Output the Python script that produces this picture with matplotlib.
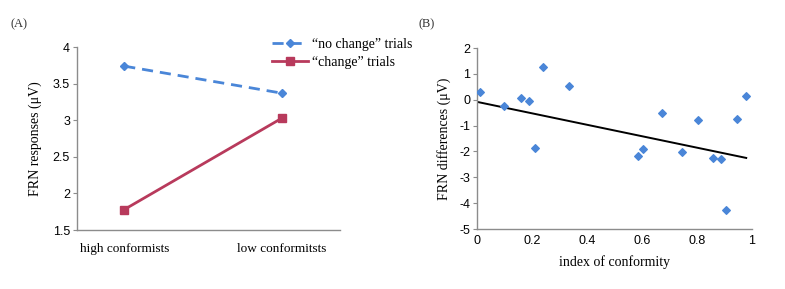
import matplotlib
matplotlib.use("Agg")
import matplotlib.pyplot as plt

plt.rcParams["axes.unicode_minus"] = False

# panel A: FRN responses by group
groups = ["high conformists", "low conformitsts"]
no_change = [3.74, 3.37]
change = [1.78, 3.03]

# panel B: FRN difference vs index of conformity
conformity = [0.01, 0.10, 0.16, 0.19, 0.21, 0.24, 0.335, 0.585, 0.605, 0.675,
              0.745, 0.805, 0.86, 0.89, 0.905, 0.945, 0.98]
frn_diff = [0.30, -0.25, 0.05, -0.05, -1.85, 1.25, 0.55, -2.18, -1.90, -0.50,
            -2.02, -0.80, -2.25, -2.30, -4.25, -0.73, 0.15]
trend_x = [0.0, 0.98]
trend_y = [-0.08, -2.25]

BLUE = "#4a86d8"
RED = "#b83a5c"
SPINE = "#8c8c8c"
SERIF = "Liberation Serif"
SANS = "Liberation Sans"

fig = plt.figure(figsize=(7.85, 2.89), dpi=100)
axA = fig.add_axes([0.098, 0.204, 0.335, 0.633])
axB = fig.add_axes([0.6076, 0.2076, 0.350, 0.626])


def style(ax):
    for s in ["top", "right"]:
        ax.spines[s].set_visible(False)
    for s in ["left", "bottom"]:
        ax.spines[s].set_color(SPINE)
        ax.spines[s].set_linewidth(1.0)
    ax.tick_params(axis="y", length=3, width=0.8, color=SPINE, labelsize=9, pad=2)
    ax.tick_params(axis="x", length=0, labelsize=9, pad=4)
    for lab in ax.get_yticklabels() + ax.get_xticklabels():
        lab.set_family(SANS)


# (A)
pos = list(range(len(groups)))
axA.plot(pos, no_change, color=BLUE, linestyle=(0, (4, 2.5)), linewidth=2,
         marker="D", markersize=4.2, label="\u201cno change\u201d trials")
axA.plot(pos, change, color=RED, linewidth=2,
         marker="s", markersize=5.5, label="\u201cchange\u201d trials")
axA.set_xlim(-0.3, 1.367)
axA.set_ylim(1.5, 4)
axA.set_yticks([1.5, 2, 2.5, 3, 3.5, 4])
axA.set_yticklabels(["1.5", "2", "2.5", "3", "3.5", "4"])
axA.set_xticks(pos)
axA.set_xticklabels(groups)
style(axA)
axA.tick_params(axis="x", pad=9)
for lab in axA.get_xticklabels():
    lab.set_family(SERIF)
    lab.set_fontsize(9.5)
axA.set_ylabel("FRN responses (\u03bcV)", family=SERIF, fontsize=10, labelpad=8)
axA.legend(loc="upper left", bbox_to_anchor=(0.72, 1.08), frameon=False,
           prop={"family": SERIF, "size": 10}, handlelength=2.6,
           handletextpad=0.3, labelspacing=0.35, borderaxespad=0)

# (B)
axB.scatter(conformity, frn_diff, marker="D", s=15, color=BLUE, zorder=3)
axB.plot(trend_x, trend_y, color="black", linewidth=1.4)
axB.set_xlim(0, 1)
axB.set_ylim(-5, 2)
axB.set_xticks([0, 0.2, 0.4, 0.6, 0.8, 1])
axB.set_xticklabels(["0", "0.2", "0.4", "0.6", "0.8", "1"])
axB.set_yticks(range(-5, 3))
style(axB)
axB.set_xlabel("index of conformity", family=SERIF, fontsize=10, labelpad=6)
axB.set_ylabel("FRN differences (\u03bcV)", family=SERIF, fontsize=10, labelpad=6)

fig.text(0.013, 0.905, "(A)", family=SERIF, fontsize=9, color="#333333")
fig.text(0.533, 0.905, "(B)", family=SERIF, fontsize=9, color="#333333")

fig.savefig("out.png", dpi=100)
